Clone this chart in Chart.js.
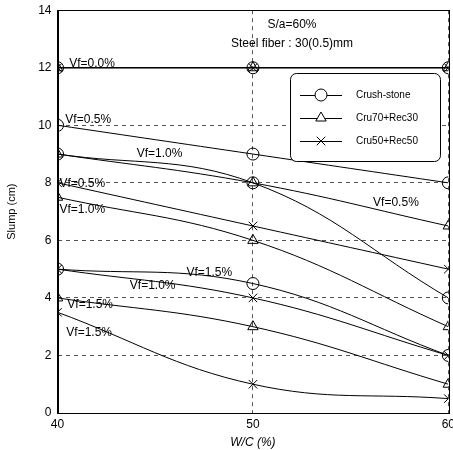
<!DOCTYPE html>
<html>
<head>
<meta charset="utf-8">
<script src="https://cdn.jsdelivr.net/npm/chart.js@4.4.0/dist/chart.umd.min.js"></script>
<style>
    html, body { margin: 0; padding: 0; background: #fff; overflow: hidden; }
    #wrap { width: 453px; height: 450px; overflow: hidden; }
    #box { width: 461px; height: 453px; margin-top: -3px; }
</style>
</head>
<body>
<div id="wrap"><div id="box"><canvas id="chart-slump"></canvas></div></div>
<script>
    // W/C ratio (%)
    const wc = [40, 50, 60];

    // slump (cm) - Crush-stone
    const crushVf00 = [12, 12, 12];
    const crushVf05 = [10, 9, 8];
    const crushVf10 = [9, 8, 4];
    const crushVf15 = [5, 4.5, 2];

    // slump (cm) - Cru70+Rec30
    const cru70Vf00 = [12, 12, 12];
    const cru70Vf05 = [9, 8, 6.5];
    const cru70Vf10 = [7.5, 6, 3];
    const cru70Vf15 = [4, 3, 1];

    // slump (cm) - Cru50+Rec50
    const cru50Vf00 = [12, 12, 12];
    const cru50Vf05 = [8, 6.5, 5];
    const cru50Vf10 = [5, 4, 2];
    const cru50Vf15 = [3.5, 1, 0.5];

    const seriesNames = ['Crush-stone', 'Cru70+Rec30', 'Cru50+Rec50'];
    const markers = ['circle', 'triangle', 'crossRot'];
    const yTicks = [0, 2, 4, 6, 8, 10, 12, 14];
    const xTicks = [40, 50, 60];

    const FONT = '"Liberation Sans", Arial, sans-serif';

    function makeSet(name, marker, values, straight) {
        return {
            label: name,
            data: values.map((v, i) => ({ x: wc[i], y: v })),
            borderColor: '#000',
            borderWidth: 1,
            backgroundColor: 'rgba(0,0,0,0)',
            pointStyle: marker,
            pointRadius: 6,
            pointBorderWidth: 1,
            pointBorderColor: '#000',
            pointBackgroundColor: 'rgba(0,0,0,0)',
            tension: straight ? 0 : 0.4,
            fill: false
        };
    }

    const datasets = [];
    const groups = [
        [crushVf00, crushVf05, crushVf10, crushVf15],
        [cru70Vf00, cru70Vf05, cru70Vf10, cru70Vf15],
        [cru50Vf00, cru50Vf05, cru50Vf10, cru50Vf15]
    ];
    groups.forEach(function (g, k) {
        g.forEach(function (vals, j) {
            datasets.push(makeSet(seriesNames[k], markers[k], vals, j === 0));
        });
    });

    // Vf labels: [text, x, y] in data units
    const notes = [
        ['Vf=0.0%', 40.6, 12.15],
        ['Vf=0.5%', 40.4, 10.2],
        ['Vf=1.0%', 44.05, 9.0],
        ['Vf=0.5%', 40.1, 7.98],
        ['Vf=1.0%', 40.1, 7.05],
        ['Vf=0.5%', 56.15, 7.3],
        ['Vf=1.5%', 46.6, 4.88],
        ['Vf=1.0%', 43.7, 4.43],
        ['Vf=1.5%', 40.5, 3.75],
        ['Vf=1.5%', 40.45, 2.78]
    ];

    const extras = {
        id: 'extras',
        afterDraw(chart) {
            const c = chart.ctx;
            const xs = chart.scales.x, ys = chart.scales.y;
            const a = chart.chartArea;
            c.save();
            // frame
            c.strokeStyle = '#000';
            c.lineWidth = 1;
            c.setLineDash([]);
            c.strokeRect(Math.round(a.left) + 0.5, Math.round(a.top) + 0.5,
                Math.round(a.right - a.left), Math.round(a.bottom - a.top));

            c.fillStyle = '#000';
            c.font = '12px ' + FONT;
            c.textBaseline = 'middle';
            c.textAlign = 'left';
            notes.forEach(function (n) {
                c.fillText(n[0], xs.getPixelForValue(n[1]), ys.getPixelForValue(n[2]));
            });

            c.textAlign = 'center';
            c.fillText('S/a=60%', xs.getPixelForValue(52), ys.getPixelForValue(13.5));
            c.fillText('Steel fiber : 30(0.5)mm', xs.getPixelForValue(52), ys.getPixelForValue(12.85));

            // legend box
            const lx = 290, ly = 76, lw = 150, lh = 88;
            c.beginPath();
            c.roundRect(lx + 0.5, ly + 0.5, lw, lh, 6);
            c.fillStyle = '#fff';
            c.fill();
            c.strokeStyle = '#000';
            c.stroke();
            c.font = '10px ' + FONT;
            c.textAlign = 'left';
            seriesNames.forEach(function (name, i) {
                const yy = ly + 22 + i * 23;
                c.beginPath();
                c.moveTo(lx + 10, yy + 0.5);
                c.lineTo(lx + 52, yy + 0.5);
                c.strokeStyle = '#000';
                c.stroke();
                c.fillStyle = '#fff';
                Chart.helpers.drawPoint(c, { pointStyle: markers[i], radius: 6, borderWidth: 1 }, lx + 31, yy);
                c.fillStyle = '#000';
                c.fillText(name, lx + 66, yy);
            });
            c.restore();
        }
    };

    const ctx = document.getElementById('chart-slump').getContext('2d');
    new Chart(ctx, {
        type: 'line',
        data: { datasets: datasets },
        options: {
            responsive: true,
            maintainAspectRatio: false,
            animation: false,
            layout: { padding: { top: 5, right: 10, left: 5, bottom: 0 } },
            plugins: {
                legend: { display: false },
                tooltip: { enabled: false }
            },
            scales: {
                x: {
                    type: 'linear',
                    min: 40,
                    max: 60,
                    afterBuildTicks: function (s) { s.ticks = xTicks.map(v => ({ value: v })); },
                    grid: { color: '#555', drawTicks: false },
                    border: { display: true, color: '#000', dash: [4, 4] },
                    ticks: { color: '#000', font: { family: FONT, size: 12, lineHeight: 1 }, padding: 6, maxRotation: 0 },
                    title: { display: true, text: 'W/C (%)', color: '#000', font: { family: FONT, size: 12, style: 'italic', lineHeight: 1 }, padding: { top: 0, bottom: 1 } }
                },
                y: {
                    min: 0,
                    max: 14,
                    afterBuildTicks: function (s) { s.ticks = yTicks.map(v => ({ value: v })); },
                    grid: { color: '#555', drawTicks: false },
                    border: { display: true, color: '#000', dash: [4, 4] },
                    ticks: { color: '#000', font: { family: FONT, size: 12 }, padding: 6 },
                    title: { display: true, text: 'Slump (cm)', color: '#000', font: { family: FONT, size: 11 }, padding: { top: 0, bottom: 14 } }
                }
            }
        },
        plugins: [extras]
    });
</script>
</body>
</html>
